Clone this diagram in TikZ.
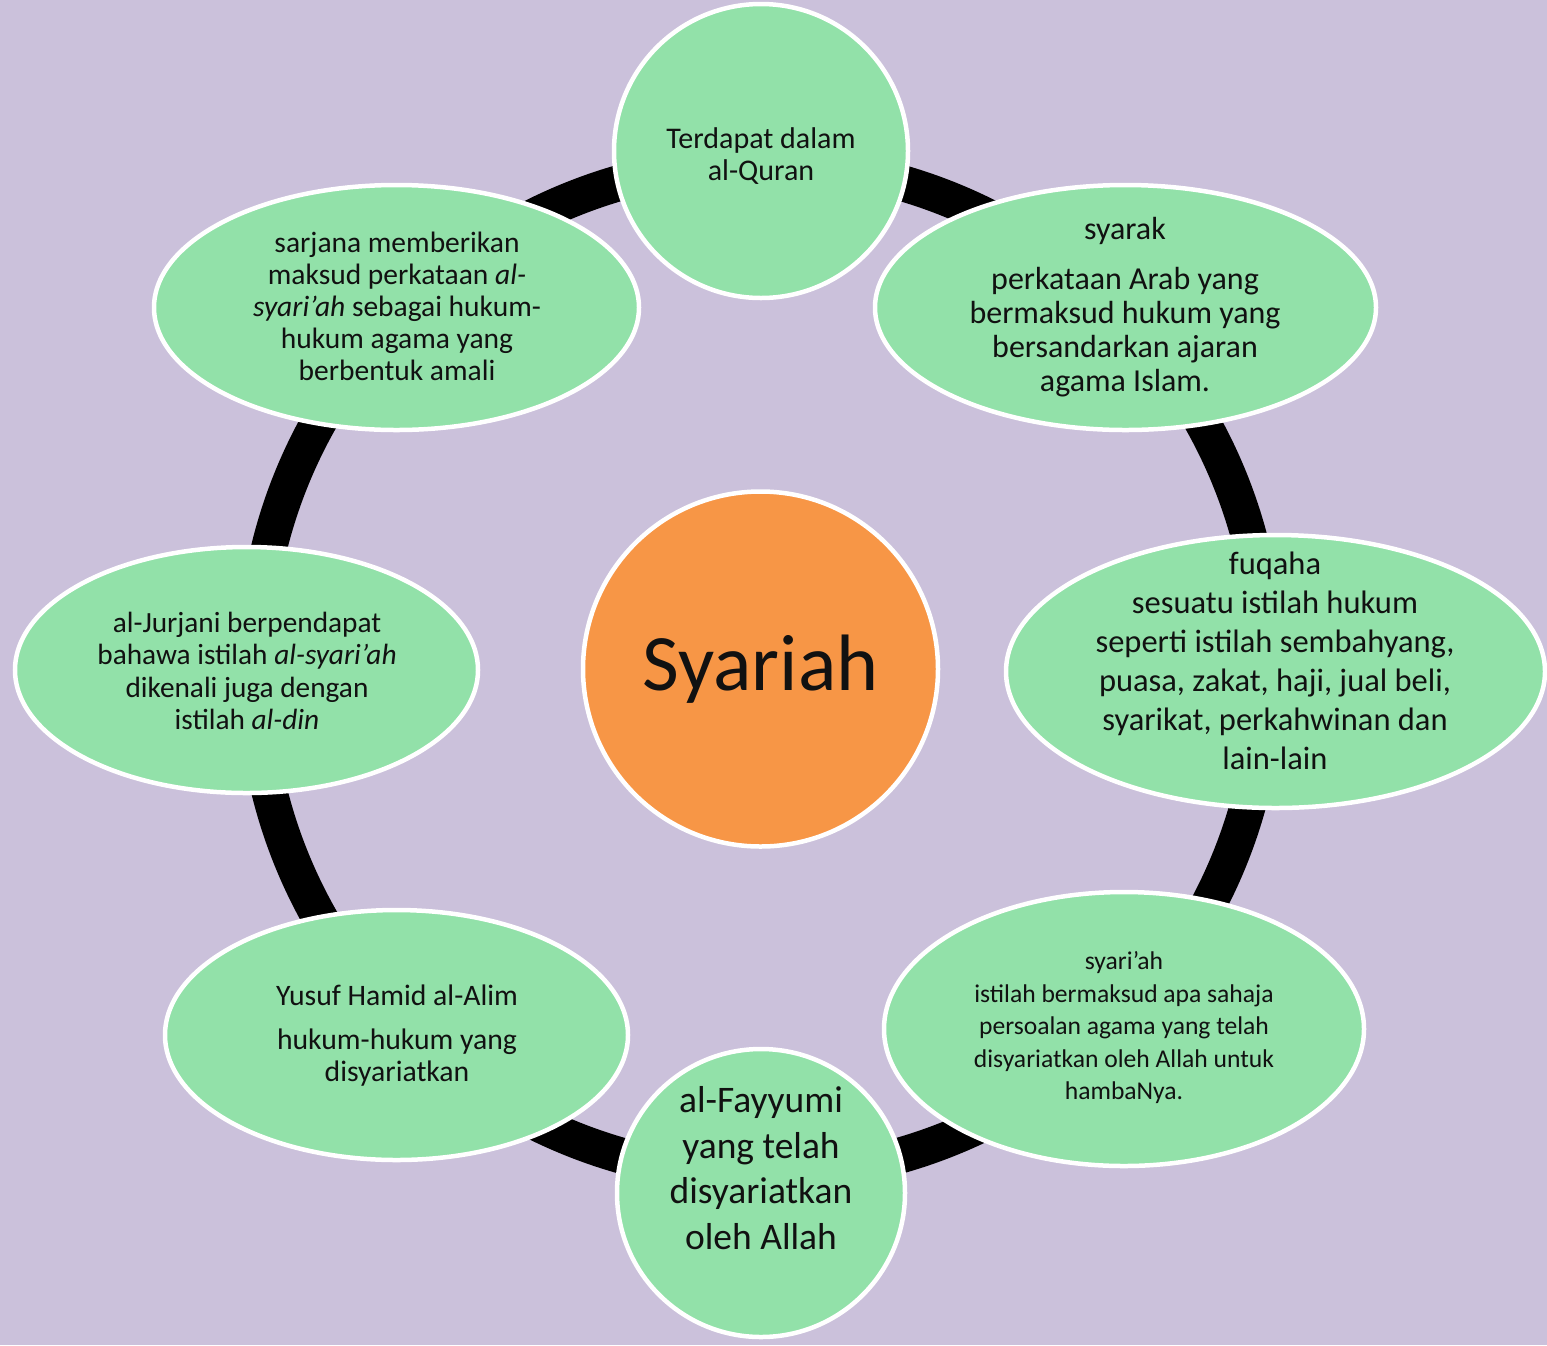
\documentclass[tikz,border=0pt]{standalone}
\usepackage{fontspec}
\setmainfont{Carlito}
\usetikzlibrary{shapes.geometric}
\definecolor{bgc}{HTML}{CBC1DB}
\definecolor{nodeg}{HTML}{92E1A9}
\definecolor{orangec}{HTML}{F79646}
\definecolor{txtc}{HTML}{111111}
\begin{document}
\begin{tikzpicture}[x=1pt,y=-1pt,
  bubble/.style={ellipse, draw=white, line width=4.5pt, fill=nodeg, inner sep=0pt},
  roundbubble/.style={circle, draw=white, line width=4.5pt, fill=nodeg, inner sep=0pt},
  txt/.style={align=center, text=txtc, inner sep=0pt},
  ring/.style={draw=black, line width=36pt}
]
\fill[bgc] (0,0) rectangle (1547,1345);
\useasboundingbox (0,0) rectangle (1547,1345);
\coordinate (hub) at (760.5,669);
\draw[ring] (hub) circle[radius=506];

% ellipses
\node[bubble, minimum width=501pt, minimum height=245pt] (tr) at (1125.5,307.5) {};
\node[bubble, minimum width=539pt, minimum height=273pt] (r) at (1275.5,671.5) {};
\node[bubble, minimum width=480pt, minimum height=274pt] (br) at (1124,1029) {};
\node[bubble, minimum width=463pt, minimum height=250pt] (bl) at (396.5,1035) {};
\node[bubble, minimum width=463pt, minimum height=246pt] (l) at (246.5,670) {};
\node[bubble, minimum width=485pt, minimum height=245pt] (tl) at (396.5,307.5) {};
% circles
\node[roundbubble, minimum size=294pt] (top) at (761,151) {};
\node[roundbubble, minimum size=288pt] (bot) at (761,1193) {};
\node[roundbubble, fill=orangec, minimum size=355pt] (c) at (hub) {};

% texts
\node[txt, font=\fontsize{30}{32}\selectfont] (ttop) at (761,156) {Terdapat dalam\\al-Quran};
\node[txt, font=\fontsize{32}{34}\selectfont] (ttr) at (1125,307) {syarak\\[16pt]perkataan Arab yang\\bermaksud hukum yang\\bersandarkan ajaran\\agama Islam.};
\node[txt, font=\fontsize{32.5}{39}\selectfont] (tr2) at (1275,661) {fuqaha\\ sesuatu istilah hukum\\seperti istilah sembahyang,\\puasa, zakat, haji, jual beli,\\syarikat, perkahwinan dan\\lain-lain};
\node[txt, font=\fontsize{25.6}{32.5}\selectfont] (tbr) at (1124,1028) {syari’ah\\istilah bermaksud apa sahaja\\persoalan agama yang telah\\disyariatkan oleh Allah untuk\\hambaNya.};
\node[txt, font=\fontsize{37.5}{45.7}\selectfont] (tbot) at (761,1168) {al-Fayyumi\\yang telah\\disyariatkan\\oleh Allah};
\node[txt, font=\fontsize{29.7}{32}\selectfont] (tbl) at (397,1036) {Yusuf Hamid al-Alim\\[12pt]hukum-hukum yang\\disyariatkan};
\node[txt, font=\fontsize{29.3}{32.3}\selectfont] (tl2) at (247,671) {al-Jurjani berpendapat\\bahawa istilah \textit{al-syari’ah}\\dikenali juga dengan\\istilah \textit{al-din}};
\node[txt, font=\fontsize{29.5}{32}\selectfont] (ttl) at (397,306) {sarjana memberikan\\maksud perkataan \textit{al-}\\\textit{syari’ah} sebagai hukum-\\hukum agama yang\\berbentuk amali};
\node[txt, font=\fontsize{80}{90}\selectfont] (tc) at (760.5,669) {Syariah};
\end{tikzpicture}
\end{document}
